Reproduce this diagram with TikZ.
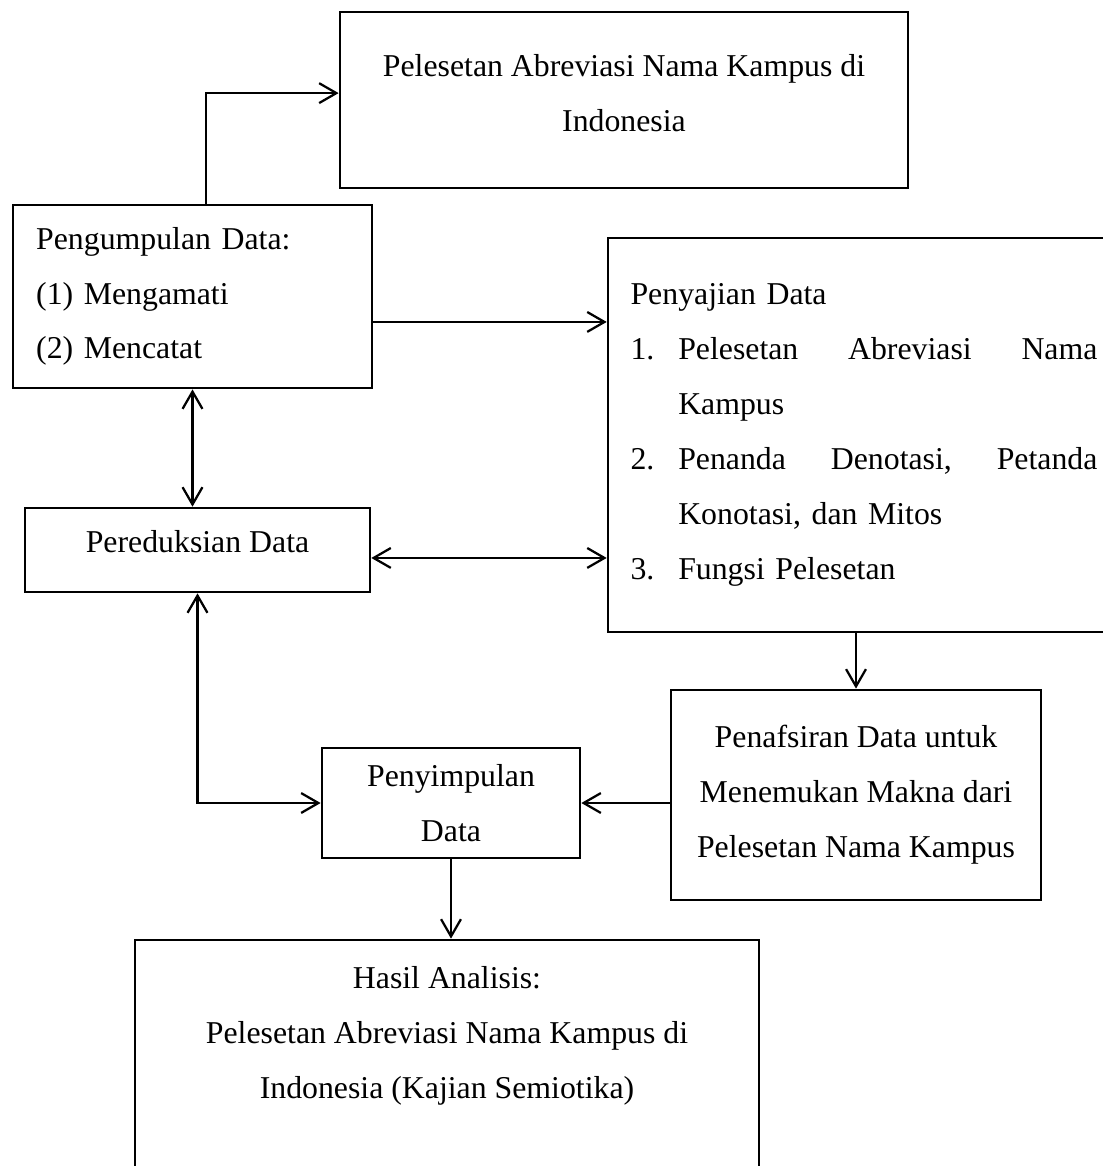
\documentclass[tikz,border=0pt]{standalone}
\usepackage{fontspec}
\setmainfont{Liberation Serif}
\usetikzlibrary{arrows.meta, positioning}

\newcommand{\nomor}[1]{\makebox[18pt][l]{#1}}

\begin{document}
\begin{tikzpicture}[x=0.3774pt, y=-0.3774pt,
    box/.style={rectangle, draw, line width=1pt, inner sep=0pt,
                align=center, font=\fontsize{12}{20.7}\selectfont},
    panah/.style={-{Straight Barb[length=6.5pt, width=7.5pt]}, line width=0.85pt},
    duapanah/.style={{Straight Barb[length=6.5pt, width=7.5pt]}-{Straight Barb[length=6.5pt, width=7.5pt]}, line width=0.85pt}]
    \useasboundingbox (0,0) rectangle (1103,1166);

    \node[box, minimum width=214.4pt, minimum height=66.4pt, text depth=5.5pt] (judul) at (624, 100)
        {Pelesetan Abreviasi Nama Kampus di\\Indonesia};
    \node[box, minimum width=135.5pt, minimum height=69.1pt, text width=118pt, align=left] (kumpul) at (192.5, 296.5)
        {Pengumpulan Data:\\\nomor{(1)}Mengamati\\\nomor{(2)}Mencatat};
    \node[box, minimum width=193.2pt, minimum height=148.7pt, text width=176.2pt, align=left] (sajian) at (864, 435)
        {Penyajian Data\\
         \nomor{1.}Pelesetan\hfill Abreviasi\hfill Nama\\
         \hspace*{18pt}Kampus\\
         \nomor{2.}Penanda\hfill Denotasi,\hfill Petanda\\
         \hspace*{18pt}Konotasi, dan Mitos\\
         \nomor{3.}Fungsi Pelesetan};
    \node[box, minimum width=130.2pt, minimum height=31.7pt, text depth=6.5pt] (reduksi) at (197.5, 550) {Pereduksian Data};
    \node[box, minimum width=97.4pt, minimum height=41.5pt] (simpul) at (451, 803) {Penyimpulan\\Data};
    \node[box, minimum width=139.6pt, minimum height=79.3pt] (tafsir) at (856, 795)
        {Penafsiran Data untuk\\Menemukan Makna dari\\Pelesetan Nama Kampus};
    \node[box, minimum width=235.5pt, minimum height=90.6pt] (hasil) at (447, 1060)
        {Hasil Analisis:\\Pelesetan Abreviasi Nama Kampus di\\Indonesia (Kajian Semiotika)\\\mbox{}};

    \coordinate (k1) at ([yshift=-9.6pt]kumpul.east);
    \coordinate (r1) at ([yshift=-3pt]reduksi.east);

    \draw[panah] ([xshift=5.1pt]kumpul.north) |- ([yshift=2.6pt]judul.west);
    \draw[panah] (k1) -- (k1 -| sajian.west);
    \draw[duapanah] (kumpul.south) -- (kumpul.south |- reduksi.north);
    \draw[duapanah] (r1) -- (r1 -| sajian.west);
    \draw[duapanah] (reduksi.south) |- (simpul.west);
    \draw[panah] (tafsir.north |- sajian.south) -- (tafsir.north);
    \draw[panah] (simpul.east -| tafsir.west) -- (simpul.east);
    \draw[panah] (simpul.south) -- (simpul.south |- hasil.north);
\end{tikzpicture}
\end{document}
